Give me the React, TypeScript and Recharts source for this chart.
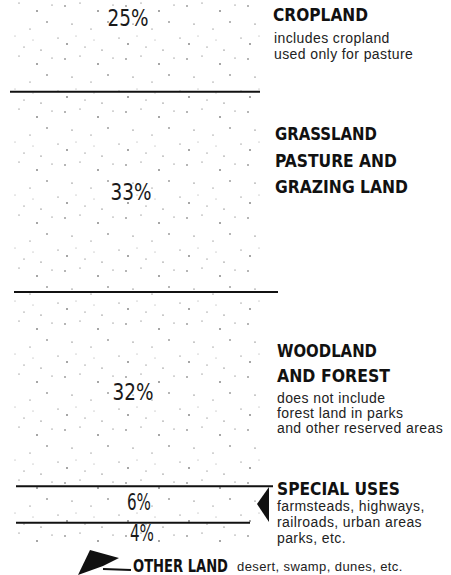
import React from "react"
import { BarChart, Bar, XAxis, YAxis, Customized } from "recharts"

// one stacked column, bottom segment first
const categories = ["Land use"]
const otherLand = [4]
const specialUses = [6]
const woodland = [32]
const grassland = [33]
const cropland = [25]

const data = categories.map((name, i) => ({
	name,
	other: otherLand[i],
	special: specialUses[i],
	woodland: woodland[i],
	grassland: grassland[i],
	cropland: cropland[i],
}))

const pctFont = "'DejaVu Sans Condensed', 'DejaVu Sans', sans-serif"
const headFont = "'DejaVu Sans Condensed', 'DejaVu Sans', sans-serif"
const noteFont = "'Liberation Sans', Arial, sans-serif"

// scattered speckle dots for the paper texture
const dots = [
	[4, 6, 0.7], [19, 3, 0.5], [37, 11, 0.8], [52, 5, 0.5], [11, 24, 0.6],
	[30, 29, 0.5], [47, 22, 0.7], [58, 38, 0.5], [6, 44, 0.8], [24, 47, 0.5],
	[41, 50, 0.6], [15, 36, 0.4], [33, 40, 0.4],
]

// segment = speckled block, separator line under it, percent in the middle
const Segment = (props: any) => {
	const { x, y, width, height, lineFrom = 0, lineTo = 0, bottomLine = true, pct, dx = 0, dy = 0 } = props
	const label = `${pct}%`
	const w = label.length > 2 ? 41 : 24
	return (
		<g>
			<rect x={x} y={y} width={width} height={height} fill='url(#stipple)' />
			{bottomLine && (
				<line
					x1={x + lineFrom}
					x2={x + width + lineTo}
					y1={y + height}
					y2={y + height}
					stroke='#111'
					strokeWidth={2}
				/>
			)}
			<text
				x={x + width / 2 + dx - w / 2}
				y={y + height / 2 + 8 + dy}
				fontFamily={pctFont}
				fontSize={23}
				textLength={w}
				lengthAdjust='spacingAndGlyphs'
				fill='#1a1a1a'>
				{label}
			</text>
		</g>
	)
}

const Head = ({ x, y, w, children }: any) => (
	<text
		x={x}
		y={y}
		fontFamily={headFont}
		fontWeight='bold'
		fontSize={18}
		textLength={w}
		lengthAdjust='spacingAndGlyphs'
		fill='#111'>
		{children}
	</text>
)

const Note = ({ x, y, children, size = 14 }: any) => (
	<text x={x} y={y} fontFamily={noteFont} fontSize={size} letterSpacing={0.4} fill='#222'>
		{children}
	</text>
)

const Annotations = () => (
	<g>
		<defs>
			<pattern id='stipple' width='61' height='53' patternUnits='userSpaceOnUse'>
				{dots.map(([cx, cy, r], i) => (
					<circle key={i} cx={cx} cy={cy} r={r} fill='#333' />
				))}
			</pattern>
		</defs>
		<Head x={273} y={21} w={95}>CROPLAND</Head>
		<Note x={274} y={43}>includes cropland</Note>
		<Note x={274} y={59}>used only for pasture</Note>

		<Head x={275} y={140} w={102}>GRASSLAND</Head>
		<Head x={275} y={167} w={122}>PASTURE AND</Head>
		<Head x={275} y={193} w={133}>GRAZING LAND</Head>

		<Head x={277} y={357} w={100}>WOODLAND</Head>
		<Head x={277} y={382} w={113}>AND FOREST</Head>
		<Note x={277} y={403}>does not include</Note>
		<Note x={277} y={418}>forest land in parks</Note>
		<Note x={277} y={433}>and other reserved areas</Note>

		<Head x={277} y={495} w={123}>SPECIAL USES</Head>
		<Note x={277} y={511}>farmsteads, highways,</Note>
		<Note x={277} y={527}>railroads, urban areas</Note>
		<Note x={277} y={543}>parks, etc.</Note>
		<polygon points='257,504 269,487 269,522' fill='#111' />

		<Head x={133} y={572} w={95}>OTHER LAND</Head>
		<Note x={237} y={571} size={13}>desert, swamp, dunes, etc.</Note>
		<polygon points='90,550 119,558 103,566 78,575' fill='#111' />
		<line x1={103} y1={569} x2={131} y2={570} stroke='#111' strokeWidth={2} />
	</g>
)

const App = () => {
	return (
		<div style={{ position: "absolute", left: 0, top: 0, background: "#fff" }}>
			<BarChart
				width={451}
				height={575}
				data={data}
				barCategoryGap={0}
				barGap={0}
				margin={{ top: -60, right: 189, left: 12, bottom: 28 }}>
				<XAxis dataKey='name' hide />
				<YAxis type='number' domain={[0, 100]} hide />
				<Bar
					dataKey='other'
					stackId='a'
					isAnimationActive={false}
					shape={(p: any) => <Segment {...p} pct={p.payload.other} bottomLine={false} dx={5} dy={-2} />}
				/>
				<Bar
					dataKey='special'
					stackId='a'
					isAnimationActive={false}
					shape={(p: any) => (
						<Segment {...p} pct={p.payload.special} lineFrom={4} lineTo={-12} dx={2} dy={-3} />
					)}
				/>
				<Bar
					dataKey='woodland'
					stackId='a'
					isAnimationActive={false}
					shape={(p: any) => (
						<Segment {...p} pct={p.payload.woodland} lineFrom={4} lineTo={11} dx={-4} dy={3} />
					)}
				/>
				<Bar
					dataKey='grassland'
					stackId='a'
					isAnimationActive={false}
					shape={(p: any) => (
						<Segment {...p} pct={p.payload.grassland} lineFrom={2} lineTo={16} dx={-6} />
					)}
				/>
				<Bar
					dataKey='cropland'
					stackId='a'
					isAnimationActive={false}
					shape={(p: any) => (
						<Segment {...p} pct={p.payload.cropland} lineFrom={-2} lineTo={-2} dx={-9} dy={2} />
					)}
				/>
				<Customized component={Annotations} />
			</BarChart>
		</div>
	)
}

export default App
